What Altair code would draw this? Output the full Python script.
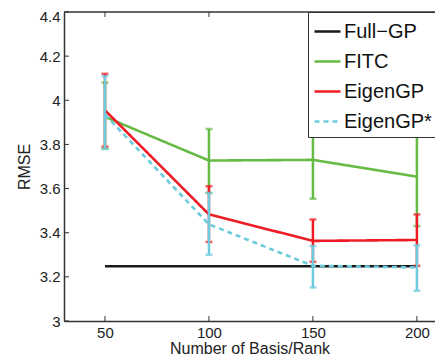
import altair as alt
import pandas as pd

x_vals = [50, 100, 150, 200]
series_names = ["Full−GP", "FITC", "EigenGP", "EigenGP*"]
colors = ["#1a1a1a", "#66BB44", "#EE1C24", "#6CCBDD"]

fullgp = [3.248, 3.248, 3.248, 3.248]
fitc = [3.925, 3.727, 3.730, 3.654]
fitc_lo = [3.780, 3.580, 3.554, 3.430]
fitc_hi = [4.080, 3.870, 3.910, 3.879]
eigen = [3.955, 3.483, 3.363, 3.367]
eigen_lo = [3.790, 3.358, 3.268, 3.250]
eigen_hi = [4.120, 3.611, 3.460, 3.483]
eigens = [3.935, 3.438, 3.250, 3.243]
eigens_lo = [3.780, 3.300, 3.152, 3.137]
eigens_hi = [4.110, 3.580, 3.340, 3.343]

x_ticks = [50, 100, 150, 200]
y_ticks = [3.0, 3.2, 3.4, 3.6, 3.8, 4.0, 4.2, 4.4]

W, H = 371, 309
FONT = "Liberation Sans"

xscale = alt.Scale(domain=[30.3, 208.7], nice=False, zero=False)
yscale = alt.Scale(domain=[3.0, 4.4], nice=False, zero=False)
color_scale = alt.Scale(domain=series_names, range=colors)
dash_scale = alt.Scale(domain=series_names, range=[[1, 0], [1, 0], [1, 0], [5, 4]])

xaxis = alt.Axis(values=x_ticks, tickSize=0, labelPadding=4, grid=False,
                 labelFontSize=15, titleFontSize=16,
                 title="Number of Basis/Rank", titlePadding=0)
yaxis = alt.Axis(values=y_ticks, tickSize=0, labelPadding=4, grid=False,
                 labelFontSize=15, titleFontSize=16,
                 labelOffset={"condition": {"test": "datum.value >= 4.39", "value": 4}, "value": 0},
                 format=".1~f", title="RMSE", titlePadding=7)

rows = []
data = [
    (series_names[0], fullgp, None, None),
    (series_names[1], fitc, fitc_lo, fitc_hi),
    (series_names[2], eigen, eigen_lo, eigen_hi),
    (series_names[3], eigens, eigens_lo, eigens_hi),
]
for name, m, lo, hi in data:
    for i, xv in enumerate(x_vals):
        rows.append({"series": name, "n": xv, "rmse": m[i],
                     "lo": lo[i] if lo else None, "hi": hi[i] if hi else None})
df = pd.DataFrame(rows)

base = alt.Chart(df)
layers = []

# frame top line and inward ticks
top_line = alt.Chart(pd.DataFrame({"a": [0]})).mark_rule(color="#333", strokeWidth=1.5).encode(
    x=alt.value(0), x2=alt.value(W), y=alt.value(0))
layers.append(top_line)
xt = pd.DataFrame({"t": x_ticks})
yt = pd.DataFrame({"t": y_ticks})
layers.append(alt.Chart(xt).mark_rule(color="#333", strokeWidth=1).encode(
    x=alt.X("t:Q", scale=xscale, axis=xaxis), y=alt.value(H), y2=alt.value(H - 5)))
layers.append(alt.Chart(xt).mark_rule(color="#333", strokeWidth=1).encode(
    x=alt.X("t:Q", scale=xscale), y=alt.value(0), y2=alt.value(5)))
layers.append(alt.Chart(yt).mark_rule(color="#333", strokeWidth=1).encode(
    y=alt.Y("t:Q", scale=yscale, axis=yaxis), x=alt.value(0), x2=alt.value(5)))

legend_kw = dict(orient="none", legendX=244, legendY=0,
                 symbolType="stroke", symbolSize=676,
                 symbolStrokeWidth=2.6, labelFontSize=20,
                 labelOffset=2, padding=5, rowPadding=5,
                 strokeColor="#333", fillColor="white",
                 labelColor="#111", labelFont=FONT)

for idx, (name, m, lo, hi) in enumerate(data):
    sub = base.transform_filter(alt.datum.series == name)
    if lo is not None:
        layers.append(sub.mark_rule(strokeWidth=2.5, color=colors[idx]).encode(
            x=alt.X("n:Q", scale=xscale),
            y=alt.Y("lo:Q", scale=yscale), y2="hi:Q"))
        layers.append(sub.mark_tick(orient="horizontal", size=7, thickness=2.5, color=colors[idx]).encode(
            x=alt.X("n:Q", scale=xscale), y=alt.Y("lo:Q", scale=yscale)))
        layers.append(sub.mark_tick(orient="horizontal", size=7, thickness=2.5, color=colors[idx]).encode(
            x=alt.X("n:Q", scale=xscale), y=alt.Y("hi:Q", scale=yscale)))
    layers.append(sub.mark_line(strokeWidth=2.6).encode(
        x=alt.X("n:Q", scale=xscale),
        y=alt.Y("rmse:Q", scale=yscale),
        color=alt.Color("series:N", scale=color_scale, title=None,
                        legend=alt.Legend(**legend_kw)),
        strokeDash=alt.StrokeDash("series:N", scale=dash_scale, title=None,
                                  legend=alt.Legend(**legend_kw)),
    ))

chart = alt.layer(*layers).properties(
    width=W, height=H,
    padding={"left": 56, "top": 4, "right": 0, "bottom": 35},
    autosize=alt.AutoSizeParams(type="none"),
).configure_view(strokeWidth=0).configure_axis(
    domainColor="#333", domainWidth=1.5, labelFont=FONT, titleFont=FONT,
    labelColor="#222", titleColor="#222", titleFontWeight="normal",
)

chart.save("out.html", embed_options={"renderer": "svg", "actions": False})
